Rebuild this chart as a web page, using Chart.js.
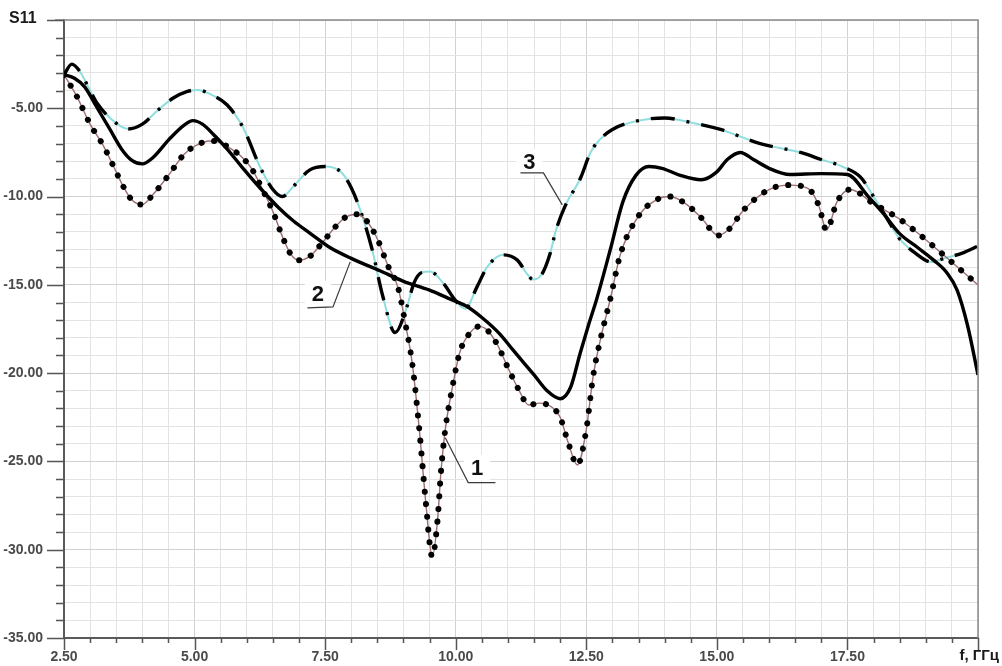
<!DOCTYPE html>
<html>
<head>
<meta charset="utf-8">
<script src="https://cdn.jsdelivr.net/npm/chart.js@4/dist/chart.umd.min.js"></script>
<style>
  html, body { margin: 0; padding: 0; background: #ffffff; }
  #wrap { position: relative; width: 1002px; height: 666px; }
</style>
</head>
<body>
<div id="wrap"><canvas id="c" width="1002" height="666"></canvas></div>
<script>
// ---------- DATA ----------
// Curve 1 (dotted)
const freq1 = [2.5, 2.75, 3.0, 3.25, 3.45, 3.63, 3.8, 4.0, 4.2, 4.5, 4.8, 5.0, 5.3, 5.45, 5.7, 5.9, 6.1, 6.3, 6.5, 6.7, 6.85, 7.0, 7.2, 7.45, 7.7, 7.9, 8.1, 8.3, 8.5, 8.7, 8.9, 9.03, 9.17, 9.3, 9.43, 9.55, 9.65, 9.72, 9.8, 9.93, 10.08, 10.28, 10.45, 10.6, 10.8, 11.0, 11.2, 11.4, 11.6, 11.85, 12.0, 12.15, 12.33, 12.5, 12.63, 12.77, 12.96, 13.15, 13.5, 13.9, 14.1, 14.4, 14.7, 15.03, 15.25, 15.5, 16.0, 16.4, 16.75, 16.95, 17.1, 17.3, 17.55, 18.0, 18.46, 18.84, 19.22, 19.61, 20.0];
const s11_1 = [-3.1, -4.35, -5.9, -7.1, -8.3, -9.4, -10.2, -10.45, -9.9, -8.8, -7.6, -7.15, -6.85, -6.9, -7.3, -7.75, -8.45, -9.6, -10.85, -12.4, -13.3, -13.6, -13.4, -12.6, -11.7, -11.15, -11.0, -11.4, -12.4, -13.9, -15.2, -17.1, -19.5, -23.1, -27.4, -30.4, -28.4, -25.5, -23.2, -20.9, -18.8, -17.7, -17.35, -17.55, -18.4, -19.7, -20.9, -21.8, -21.7, -21.95, -22.5, -23.9, -25.2, -23.2, -20.2, -18.1, -15.8, -13.3, -11.1, -10.1, -10.0, -10.4, -11.2, -12.2, -11.8, -10.8, -9.6, -9.35, -9.55, -10.5, -11.9, -10.3, -9.6, -10.4, -11.2, -12.05, -13.0, -14.0, -15.0];

// Curve 2 (solid)
const freq2 = [2.5, 2.7, 2.9, 3.1, 3.38, 3.6, 3.8, 4.0, 4.2, 4.5, 4.8, 4.97, 5.15, 5.4, 5.62, 5.9, 6.25, 6.6, 6.9, 7.2, 7.6, 8.0, 8.55, 9.0, 9.5, 9.85, 10.2, 10.5, 10.85, 11.1, 11.5, 11.75, 12.0, 12.2, 12.38, 12.55, 12.7, 12.96, 13.2, 13.45, 13.7, 13.95, 14.3, 14.7, 15.0, 15.2, 15.45, 15.7, 16.0, 16.4, 17.0, 17.5, 17.9, 18.2, 18.5, 18.85, 19.15, 19.4, 19.6, 19.8, 20.0];
const s11_2 = [-3.1, -3.3, -3.8, -4.8, -6.2, -7.3, -7.95, -8.15, -7.8, -6.8, -5.95, -5.7, -5.9, -6.6, -7.3, -8.3, -9.5, -10.6, -11.4, -12.05, -12.9, -13.5, -14.2, -14.8, -15.3, -15.75, -16.2, -16.85, -17.8, -18.7, -20.1, -21.0, -21.45, -20.8, -18.9, -17.2, -15.8, -13.0, -10.3, -8.8, -8.3, -8.4, -8.8, -9.05, -8.6, -7.9, -7.5, -7.9, -8.4, -8.75, -8.7, -8.75, -10.0, -11.0, -12.1, -12.9, -13.6, -14.3, -15.3, -17.3, -20.1];

// Curve 3 (dash-dot)
const freq3 = [2.5, 2.65, 2.8, 3.0, 3.13, 3.4, 3.73, 4.0, 4.3, 4.6, 4.85, 5.05, 5.3, 5.62, 5.93, 6.25, 6.5, 6.68, 6.9, 7.2, 7.5, 7.8, 8.0, 8.2, 8.4, 8.6, 8.84, 9.07, 9.2, 9.35, 9.51, 9.76, 10.0, 10.18, 10.41, 10.6, 10.91, 11.18, 11.37, 11.48, 11.65, 11.8, 11.92, 12.1, 12.39, 12.58, 12.75, 13.0, 13.5, 14.0, 14.5, 15.07, 15.83, 16.6, 17.0, 17.4, 17.75, 18.0, 18.25, 18.5, 18.8, 19.1, 19.35, 19.7, 20.0];
const s11_3 = [-3.1, -2.5, -2.9, -4.0, -4.7, -5.6, -6.17, -5.9, -5.1, -4.4, -4.05, -3.96, -4.2, -4.8, -6.1, -8.3, -9.6, -10.0, -9.4, -8.5, -8.3, -8.6, -9.5, -11.0, -13.0, -15.6, -17.7, -16.2, -14.9, -14.3, -14.25, -14.9, -15.9, -16.35, -15.1, -14.0, -13.3, -13.6, -14.4, -14.7, -14.4, -13.3, -11.9, -10.5, -8.95, -7.5, -6.8, -6.2, -5.7, -5.55, -5.8, -6.2, -7.0, -7.5, -7.9, -8.3, -8.9, -10.0, -11.2, -12.4, -13.2, -13.7, -13.5, -13.2, -12.8];

// Axis settings / labels
const xMin = 2.5, xMax = 20, xStep = 0.5, xMajor = 2.5;
const yMin = -35, yMax = 0, yStep = 1, yMajor = 5;
const yAxisTitle = 'S11';
const xAxisTitle = 'f, ГГц';
const curveLabels = ['1', '2', '3'];

// ---------- CHART ----------
const pts = (fx, sy) => fx.map((f, i) => ({ x: f, y: sy[i] }));
const isMult = (v, m) => Math.abs(v / m - Math.round(v / m)) < 1e-6;
const FONT = '"Liberation Sans", Arial, sans-serif';

// annotation leaders in data coordinates (text anchor, then polyline)
const notes = [
  { t: curveLabels[0], at: [10.41, -25.35], line: [[9.8, -23.66], [10.24, -26.2], [10.76, -26.2]] },
  { t: curveLabels[1], at: [7.36, -15.5], line: [[7.98, -13.7], [7.65, -16.25], [7.16, -16.3]] },
  { t: curveLabels[2], at: [11.41, -8.05], line: [[12.04, -10.47], [11.68, -8.66], [11.24, -8.66]] }
];

const decor = {
  id: 'decor',
  afterDatasetsDraw(chart) {
    const { ctx, scales: { x, y } } = chart;
    ctx.save();
    notes.forEach(n => {
      const tx = x.getPixelForValue(n.at[0]), ty = y.getPixelForValue(n.at[1]);
      ctx.fillStyle = '#ffffff';
      ctx.fillRect(tx - 13, ty - 13, 26, 26);
      ctx.strokeStyle = '#3a3a3a';
      ctx.lineWidth = 1.2;
      ctx.beginPath();
      n.line.forEach((p, i) => {
        const px = x.getPixelForValue(p[0]), py = y.getPixelForValue(p[1]);
        if (i === 0) ctx.moveTo(px, py); else ctx.lineTo(px, py);
      });
      ctx.stroke();
      ctx.fillStyle = '#111111';
      ctx.font = 'bold 22px ' + FONT;
      ctx.textAlign = 'center';
      ctx.textBaseline = 'middle';
      ctx.fillText(n.t, tx, ty + 1);
    });
    ctx.restore();
  },
  afterDraw(chart) {
    const { ctx, chartArea: a, scales: { x, y } } = chart;
    ctx.save();
    // top & right frame
    ctx.strokeStyle = '#8a8a8a';
    ctx.lineWidth = 1.5;
    ctx.beginPath();
    ctx.moveTo(a.left - 9, a.top); ctx.lineTo(a.right, a.top);
    ctx.lineTo(a.right, a.bottom);
    ctx.stroke();
    // ticks
    ctx.strokeStyle = '#555555';
    ctx.lineWidth = 1.5;
    ctx.beginPath();
    x.ticks.forEach(t => {
      const px = Math.round(x.getPixelForValue(t.value)) + 0.5;
      const len = isMult(t.value, xMajor) ? 12 : 5;
      ctx.moveTo(px, a.bottom); ctx.lineTo(px, a.bottom + len);
    });
    y.ticks.forEach(t => {
      const py = Math.round(y.getPixelForValue(t.value)) + 0.5;
      const len = isMult(t.value, yMajor) ? 17 : 8;
      ctx.moveTo(a.left - len, py); ctx.lineTo(a.left, py);
    });
    ctx.stroke();
    // axis titles
    ctx.fillStyle = '#1a1a1a';
    ctx.font = 'bold 16px ' + FONT;
    ctx.textBaseline = 'middle';
    ctx.textAlign = 'left';
    ctx.fillText(yAxisTitle, 9, 19);
    ctx.textAlign = 'right';
    ctx.font = 'bold 15px ' + FONT;
    ctx.fillText(xAxisTitle, 999, 656);
    ctx.restore();
  }
};

const gridColor = ctx => {
  const v = ctx.tick ? ctx.tick.value : 0;
  return ctx.scale.axis === 'x'
    ? (isMult(v, xMajor) ? '#d2d2d2' : '#e3e3e3')
    : (isMult(v, yMajor) ? '#d2d2d2' : '#e3e3e3');
};

new Chart(document.getElementById('c'), {
  type: 'line',
  data: {
    datasets: [
      { data: pts(freq2, s11_2), borderColor: '#000000', borderWidth: 3.4, pointRadius: 0, cubicInterpolationMode: 'monotone', order: 1 },
      { data: pts(freq1, s11_1), borderColor: '#000000', borderWidth: 6, borderDash: [0.1, 12.6], borderCapStyle: 'round', pointRadius: 0, cubicInterpolationMode: 'monotone', order: 2 },
      { data: pts(freq1, s11_1), borderColor: '#9c6e6e', borderWidth: 1.4, pointRadius: 0, cubicInterpolationMode: 'monotone', order: 3 },
      { data: pts(freq3, s11_3), borderColor: '#000000', borderWidth: 3.4, borderDash: [24, 12, 3, 12], pointRadius: 0, cubicInterpolationMode: 'monotone', order: 4 },
      { data: pts(freq3, s11_3), borderColor: '#8fdede', borderWidth: 2, pointRadius: 0, cubicInterpolationMode: 'monotone', order: 5 }
    ]
  },
  options: {
    responsive: false,
    animation: false,
    devicePixelRatio: 1,
    layout: { padding: { top: 20, right: 24, left: 0, bottom: 0 } },
    plugins: { legend: { display: false }, tooltip: { enabled: false } },
    scales: {
      x: {
        type: 'linear', min: xMin, max: xMax,
        afterFit: s => { s.height = 28; s.paddingLeft = 0; s.paddingRight = 0; },
        border: { display: true, color: '#5a5a5a', width: 2 },
        grid: { color: gridColor, lineWidth: 1, drawTicks: false },
        ticks: {
          stepSize: xStep, autoSkip: false, maxRotation: 0, padding: 11,
          color: '#4a4a4a', font: { family: FONT, size: 14, weight: 'bold' },
          callback: v => (isMult(v, xMajor) && v < xMax - 1e-6) ? v.toFixed(2) : ''
        }
      },
      y: {
        type: 'linear', min: yMin, max: yMax,
        afterFit: s => { s.width = 64; s.paddingTop = 0; s.paddingBottom = 0; },
        border: { display: true, color: '#5a5a5a', width: 2 },
        grid: { color: gridColor, lineWidth: 1, drawTicks: false },
        ticks: {
          stepSize: yStep, autoSkip: false, padding: 21,
          color: '#4a4a4a', font: { family: FONT, size: 14, weight: 'bold' },
          callback: v => (isMult(v, yMajor) && v < 0) ? v.toFixed(2) : ''
        }
      }
    }
  },
  plugins: [decor]
});
</script>
</body>
</html>
